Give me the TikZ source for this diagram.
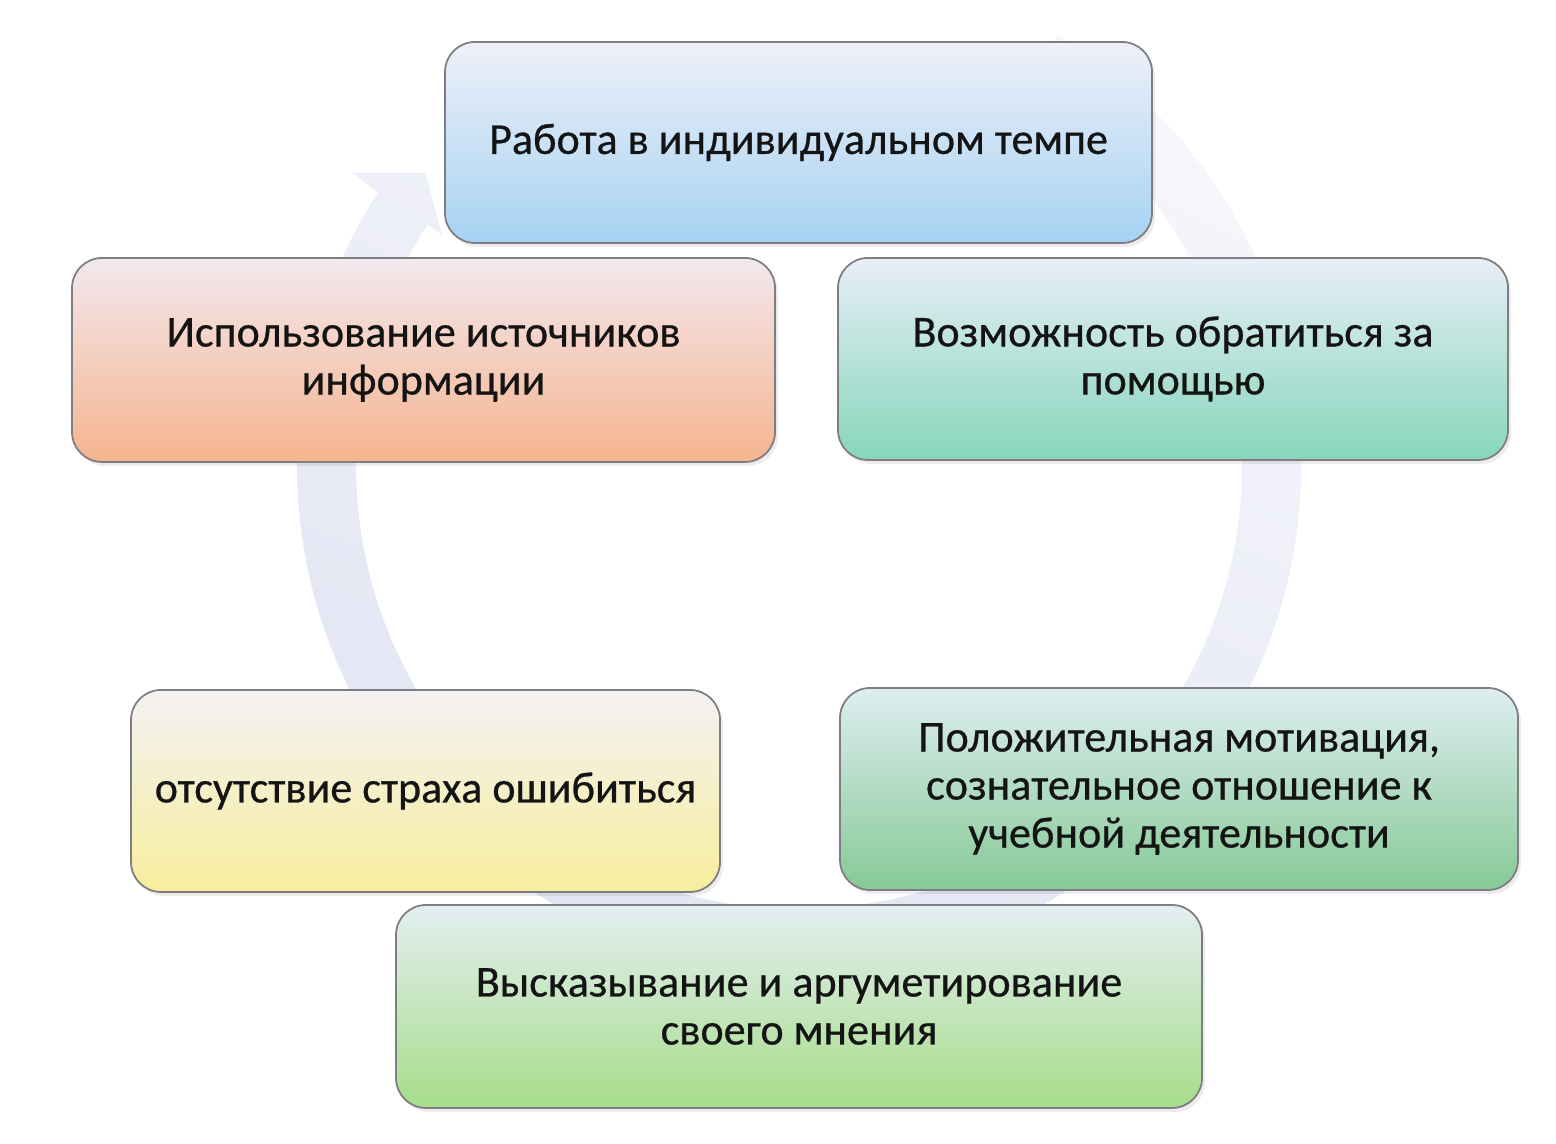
\documentclass[tikz,border=0pt]{standalone}
\usepackage{fontspec}
\setmainfont{Carlito}
\newfontfamily\boxfont{Carlito}[FakeBold=0.6]
\usetikzlibrary{calc,shadows}
\definecolor{ringcol}{RGB}{224,228,242}
\definecolor{ringfade}{RGB}{246,246,251}
\definecolor{edgecol}{RGB}{125,125,130}
\definecolor{txtcol}{RGB}{20,20,20}
\tikzset{
  stagebox/.style={rounded corners=0.3cm, draw=edgecol, line width=0.5pt,
    align=center, inner sep=0pt, text=txtcol, minimum height=2.02cm,
    font=\boxfont\fontsize{12.55}{13.66}\selectfont,
    drop shadow={opacity=0.15, shadow xshift=0.03cm, shadow yshift=-0.04cm}},
  bluebox/.style={stagebox, top color={rgb,255:red,238;green,240;blue,249}, bottom color={rgb,255:red,166;green,210;blue,242}},
  peachbox/.style={stagebox, top color={rgb,255:red,243;green,232;blue,238}, bottom color={rgb,255:red,245;green,180;blue,142}},
  tealbox/.style={stagebox, top color={rgb,255:red,232;green,238;blue,247}, bottom color={rgb,255:red,134;green,214;blue,187}},
  yellowbox/.style={stagebox, top color={rgb,255:red,244;green,241;blue,244}, bottom color={rgb,255:red,246;green,238;blue,156}},
  greenbox/.style={stagebox, top color={rgb,255:red,222;green,238;blue,241}, bottom color={rgb,255:red,134;green,201;blue,150}},
  limebox/.style={stagebox, top color={rgb,255:red,228;green,238;blue,241}, bottom color={rgb,255:red,166;green,221;blue,138}}
}
\begin{document}
\begin{tikzpicture}
\useasboundingbox (0,0) rectangle (15.56,11.44);
\coordinate (C) at (7.99,6.78);
\shade[top color=ringfade, middle color=ringcol, bottom color=ringcol, shading angle=-25]
  ($(C)+(59:5.02)$) arc[start angle=59, end angle=-213, radius=5.02]
  -- ($(C)+(-213.3:5.34)$) -- ($(C)+(-218.1:4.75)$) -- ($(C)+(-212.9:4.25)$)
  -- ($(C)+(-213:4.43)$) arc[start angle=-213, end angle=59, radius=4.43] -- cycle;
\node[bluebox, minimum width=7.07cm, minimum height=2.01cm] (tempo) at (7.985,10.015) {Работа в индивидуальном темпе};
\node[peachbox, minimum width=7.03cm, minimum height=2.04cm] (sources) at (4.235,7.84) {Использование источников\\информации};
\node[tealbox, minimum width=6.70cm] (help) at (11.73,7.85) {Возможность обратиться за\\помощью};
\node[yellowbox, minimum width=5.89cm] (fear) at (4.255,3.53) {отсутствие страха ошибиться};
\node[greenbox, minimum width=6.78cm] (motiv) at (11.79,3.55) {Положительная мотивация,\\сознательное отношение к\\учебной деятельности};
\node[limebox, minimum width=8.06cm, minimum height=2.03cm] (opinion) at (7.99,1.375) {Высказывание и аргуметирование\\своего мнения};
\end{tikzpicture}
\end{document}
